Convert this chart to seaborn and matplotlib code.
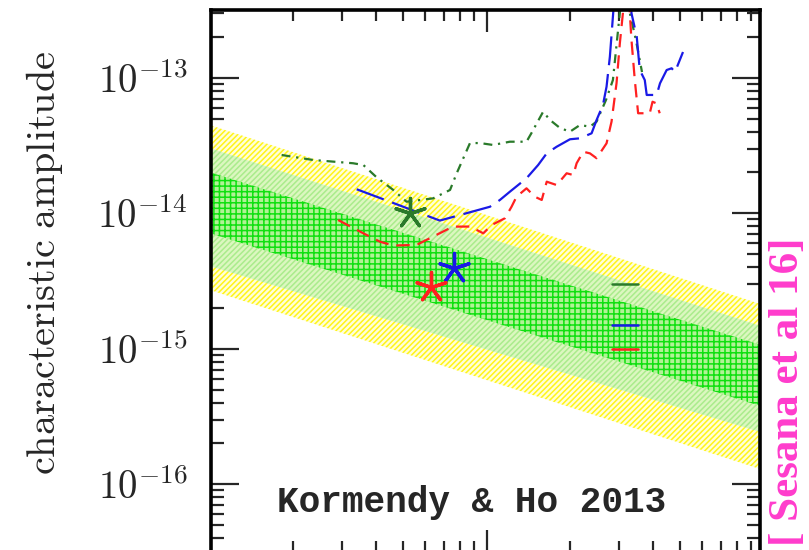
import numpy as np
import matplotlib
matplotlib.use("Agg")
import matplotlib.pyplot as plt
import seaborn as sns
from matplotlib.ticker import LogLocator, FixedLocator, FuncFormatter, NullFormatter

# ---------------- data ----------------
# Kormendy & Ho 2013 prediction bands, edges at the two ends of the frequency range
band_f = [1e-9, 1e-7]
yellow_hi = [4.48e-14, 2.10e-15]
yellow_lo = [2.72e-15, 1.27e-16]
lgreen_hi = [3.03e-14, 1.45e-15]
lgreen_lo = [4.08e-15, 2.39e-16]
green_hi = [2.01e-14, 1.05e-15]
green_lo = [7.14e-15, 3.72e-16]

# y tick positions (labelled)
y_ticks = [1e-16, 1e-15, 1e-14, 1e-13]

# PTA sensitivity curves (log10 f [Hz], log10 h)
epta_logf = [-8.740, -8.626, -8.482, -8.445, -8.397, -8.337, -8.289, -8.193, -8.132,
             -8.108, -8.060, -8.024, -7.977, -7.916, -7.856, -7.838, -7.796, -7.771,
             -7.735, -7.699, -7.663, -7.627, -7.603, -7.569, -7.544, -7.519, -7.500,
             -7.483, -7.461, -7.439]
epta_logh = [-13.570, -13.607, -13.631, -13.644, -13.735, -13.828, -13.915, -13.890, -13.828,
             -13.705, -13.482, -13.482, -13.496, -13.472, -13.472, -13.408, -13.251, -13.312,
             -13.371, -13.398, -13.349, -13.361, -13.324, -13.164, -13.017, -12.522, -11.500,
             -12.522, -12.721, -12.958]

nano_logf = [-8.469, -8.349, -8.169, -8.096, -7.988, -7.952, -7.916, -7.856, -7.814,
             -7.783, -7.747, -7.699, -7.663, -7.621, -7.603, -7.580, -7.567, -7.555,
             -7.543, -7.500, -7.477, -7.458, -7.447, -7.429, -7.422, -7.386, -7.374,
             -7.350, -7.332, -7.320, -7.291]
nano_logh = [-13.823, -13.915, -14.054, -14.013, -13.952, -13.902, -13.841, -13.742, -13.644,
             -13.558, -13.509, -13.454, -13.447, -13.410, -13.312, -13.201, -13.066, -12.845,
             -12.522, -11.500, -12.524, -12.697, -12.943, -13.017, -13.127, -13.127, -13.041,
             -12.943, -12.930, -12.958, -12.810]

ppta_logf = [-8.536, -8.445, -8.385, -8.337, -8.253, -8.194, -8.122, -8.060, -8.012,
             -7.982, -7.934, -7.910, -7.892, -7.856, -7.826, -7.801, -7.783, -7.747,
             -7.711, -7.687, -7.675, -7.651, -7.627, -7.603, -7.567, -7.549, -7.531,
             -7.519, -7.508, -7.500, -7.483, -7.477, -7.465, -7.453, -7.411, -7.401,
             -7.387, -7.375]
ppta_logh = [-14.050, -14.148, -14.210, -14.238, -14.234, -14.173, -14.099, -14.098, -14.148,
             -14.087, -14.037, -13.952, -13.878, -13.816, -13.878, -13.902, -13.767, -13.792,
             -13.705, -13.718, -13.631, -13.546, -13.558, -13.594, -13.484, -13.324, -13.041,
             -12.746, -12.524, -11.500, -12.524, -12.721, -13.017, -13.262, -13.262, -13.177,
             -13.189, -13.262]

# star markers (EPTA, NANOGrav, PPTA)
star_f = [5.3e-9, 7.6e-9, 6.3e-9]
star_h = [1.0e-14, 3.95e-15, 2.86e-15]

# upper limits at f = 1/yr
limit_f = [2.84e-8, 3.52e-8]
limit_h = [3.0e-15, 1.5e-15, 1.0e-15]

series_colors = ["#2a7a2a", "#1a1ae6", "#ff2020"]

# ---------------- figure ----------------
sns.set_style("ticks")
plt.rcParams["font.family"] = ["DejaVu Serif", "DejaVu Sans"]
plt.rcParams["mathtext.fontset"] = "cm"
plt.rcParams["hatch.linewidth"] = 1.1

W, H = 809, 550
fig = plt.figure(figsize=(W / 100, H / 100), dpi=100)
ax = fig.add_axes([211 / W, -2 / H, 549 / W, 542 / H])
ax.set_xscale("log")
ax.set_yscale("log")
ax.set_xlim(10 ** -8.995, 10 ** -7.013)
ax.set_ylim(10 ** -16.5, 10 ** -12.5)

# bands
ax.fill_between(band_f, yellow_lo, yellow_hi, facecolor="#ffffd8", edgecolor="#fff41a",
                hatch="//////", linewidth=0, zorder=1)
ax.fill_between(band_f, lgreen_lo, lgreen_hi, facecolor="#dcf7c0", edgecolor="#aaec8c",
                hatch="//////", linewidth=0, zorder=2)
ax.fill_between(band_f, green_lo, green_hi, facecolor="#b2f296", edgecolor="#10e010",
                hatch="+++", linewidth=0, zorder=3)

# curves
sns.lineplot(x=10 ** np.array(epta_logf), y=10 ** np.array(epta_logh), sort=False,
             estimator=None, color=series_colors[0], lw=1.6,
             linestyle=(0, (4.0, 2.6, 1.0, 2.6)), ax=ax, zorder=5)
sns.lineplot(x=10 ** np.array(nano_logf), y=10 ** np.array(nano_logh), sort=False,
             estimator=None, color=series_colors[1], lw=1.6,
             linestyle=(0, (13.0, 4.0)), ax=ax, zorder=5)
sns.lineplot(x=10 ** np.array(ppta_logf), y=10 ** np.array(ppta_logh), sort=False,
             estimator=None, color=series_colors[2], lw=1.6,
             linestyle=(0, (6.0, 3.6)), ax=ax, zorder=5)

# upper-limit bars
for h, c in zip(limit_h, series_colors):
    sns.lineplot(x=limit_f, y=[h, h], color=c, lw=1.8, ax=ax, zorder=6)

# stars
for f, h, c in zip(star_f, star_h, series_colors):
    sns.scatterplot(x=[f], y=[h], marker=(5, 2, 0), s=470, color=c,
                    linewidth=2.4, ax=ax, zorder=7)

# axes styling
for sp in ax.spines.values():
    sp.set_linewidth(2.6)
    sp.set_color("black")
    sp.set_zorder(10)

ax.yaxis.set_major_locator(FixedLocator(y_ticks))
ax.yaxis.set_minor_locator(LogLocator(base=10, subs=np.arange(2, 10), numticks=100))
ax.xaxis.set_major_locator(LogLocator(base=10, numticks=100))
ax.xaxis.set_minor_locator(LogLocator(base=10, subs=np.arange(2, 10), numticks=100))
ax.yaxis.set_major_formatter(FuncFormatter(lambda v, p: r"$10^{%d}$" % int(round(np.log10(v)))))
ax.yaxis.set_minor_formatter(NullFormatter())
ax.xaxis.set_major_formatter(NullFormatter())
ax.xaxis.set_minor_formatter(NullFormatter())

ax.tick_params(axis="y", which="major", direction="in", length=20, width=1.6,
               left=True, right=True, pad=17, labelsize=28)
ax.tick_params(axis="y", which="minor", direction="in", length=9.5, width=1.6,
               left=True, right=True)
ax.tick_params(axis="x", which="major", direction="in", length=16, width=1.6,
               top=True, bottom=True, labelbottom=False, labeltop=False)
ax.tick_params(axis="x", which="minor", direction="in", length=8, width=1.6,
               top=True, bottom=True, labelbottom=False, labeltop=False)
ax.set_xlabel("")
ax.set_ylabel("")

fig.text(45 / W, 1 - 263 / H, r"$\mathrm{characteristic\ amplitude}$", rotation=90,
         fontsize=29, ha="center", va="center")
fig.text(472 / W, 1 - 502 / H, "Kormendy & Ho 2013", family="Liberation Mono",
         fontweight="bold", fontsize=26, ha="center", va="center")
fig.text(788 / W, 1 - 392 / H, "[ Sesana et al 16]", rotation=90, color="#ff3ccc",
         family="Liberation Serif", fontweight="bold", fontsize=31, ha="center", va="center")

fig.savefig("out.png", dpi=100)
